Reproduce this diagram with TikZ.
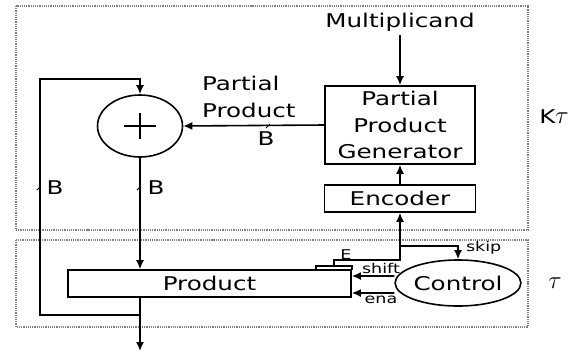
\documentclass[tikz,border=0pt]{standalone}
\usepackage{fontspec}
\setmainfont{DejaVu Sans}[FakeStretch=1.3]
\usetikzlibrary{shapes.geometric,arrows.meta,calc}
\begin{document}
\begin{tikzpicture}[x=1bp,y=-1bp,
  line width=1.6bp,
  arr/.style={-{Latex[length=9bp,width=8bp]}},
  mainfont/.style={font=\fontsize{19}{27}\selectfont},
  smallfont/.style={font=\fontsize{13.5}{15}\selectfont},
  blk/.style={draw, rectangle, inner sep=0pt, mainfont},
  region/.style={draw=gray, densely dotted, line width=1.2bp},
  tick/.style={line width=1bp}
]
\useasboundingbox (0,0) rectangle (579,352);
% regions
\draw[region] (16,6) rectangle (528,230);
\draw[region] (16,240) rectangle (528,327);
\node[mainfont] (kt) at (554,117) {K{\fontsize{25}{25}\selectfont$\tau$}};
\node[font=\fontsize{25}{25}\selectfont] (tau) at (555,283) {$\tau$};
% blocks
\node[mainfont] (mult) at (400,22) {Multiplicand};
\node[blk, minimum width=150bp, minimum height=78bp, align=center] (ppg) at (400,125) {Partial\\Product\\Generator};
\node[blk, minimum width=151bp, minimum height=27bp] (enc) at (400,198.5) {Encoder};
\node[draw, ellipse, minimum width=85bp, minimum height=62bp, inner sep=0pt] (add) at (140,126) {};
\draw[line width=2.8bp] ($(add.center)+(-16,0)$) -- ($(add.center)+(16,0)$)
  ($(add.center)+(0,-13)$) -- ($(add.center)+(0,13)$);
\node[blk, minimum width=283bp, minimum height=27bp] (prod) at (209.5,283.5) {Product};
\node[draw, ellipse, minimum width=118bp, minimum height=46bp, inner sep=0pt, mainfont] (ctrl) at (458,283) {Control};
% multiplicand
\draw[arr] (mult.south) -- (ppg.north);
% partial product
\draw[arr] (ppg.west) -- (add.east);
\node[mainfont, align=left, anchor=west] (pplab) at (198,97) {Partial\\Product};
\node[mainfont] (bpp) at (266,139) {B};
\draw[tick] (266,128) -- (270,124);
% encoder to ppg
\draw[arr] (enc.north) -- (ppg.south);
% E bracket / skip
\coordinate (jn) at (400,246);
\coordinate (ec) at (400,260);
\coordinate (eb) at (334,260);
\coordinate (eb2) at (334,266);
\draw[arr] (eb2) -- (eb) -- (ec) -- (enc.south);
\draw[line width=1.2bp] (316,270) -- (316,266) -- (352,266) -- (352,270);
\node[smallfont] (elab) at (346,255) {E};
\coordinate (sk) at (458,246);
\draw[arr] (jn) -- (sk) -- (ctrl.north);
\node[smallfont, anchor=west] (skiplab) at (462,248) {skip};
% shift / ena
\draw[arr] ([yshift=7bp]ctrl.west) -- ([yshift=7.5bp]prod.east);
\node[smallfont] (shiftlab) at (381,268) {shift};
\draw[arr] ([yshift=-10bp]ctrl.west) -- ([yshift=-9.5bp]prod.east);
\node[smallfont] (enalab) at (381,300) {ena};
% adder to product
\draw[arr] (add.south) -- (add.south |- prod.north);
\draw[tick] (137,190) -- (141,186);
\node[mainfont] (b2) at (156,188) {B};
% output and loop
\coordinate (lj) at (140,315);
\coordinate (out) at (140,351);
\coordinate (ll) at (40,315);
\coordinate (lt) at (40,79);
\coordinate (ltr) at (140,79);
\draw[arr] (add.south |- prod.south) -- (out);
\draw[arr] (lj) -- (ll) -- (lt) -- (ltr) -- (add.north);
\draw[tick] (37,190) -- (41,186);
\node[mainfont] (b1) at (55,188) {B};
\end{tikzpicture}
\end{document}
